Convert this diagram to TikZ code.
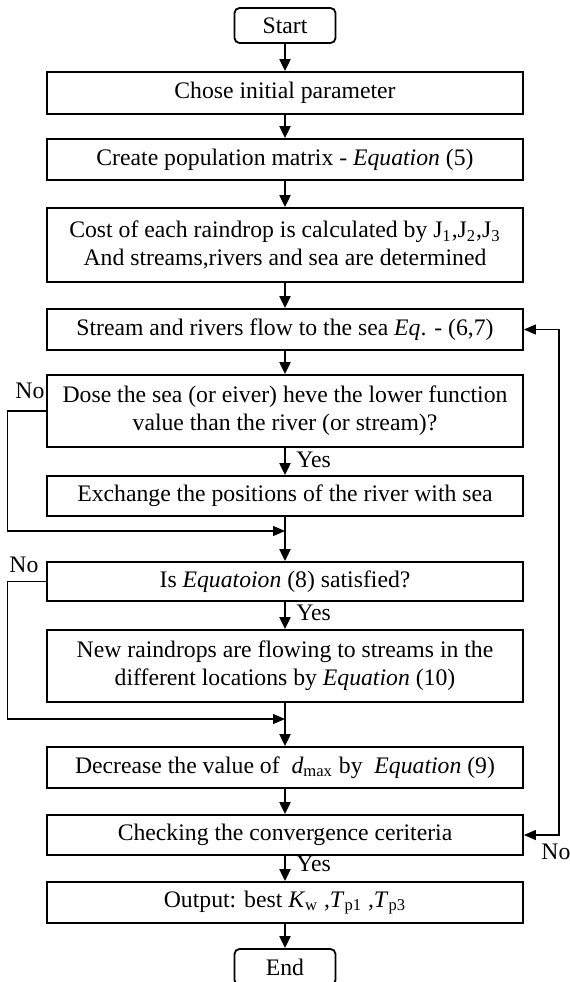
\documentclass[tikz,border=0pt]{standalone}
\usepackage{fontspec}
\setmainfont{Liberation Serif}
\usetikzlibrary{arrows.meta}

\begin{document}
\begin{tikzpicture}[x=0.5pt, y=-0.5pt,
        every node/.style={font=\fontsize{11.85}{13.85}\selectfont},
        box/.style={draw, line width=0.9pt, minimum width=238pt, inner sep=0pt, align=center},
        term/.style={draw, line width=0.9pt, rounded corners=2.5pt, minimum width=50.5pt, minimum height=17.5pt, inner sep=0pt},
        flow/.style={line width=1pt, -{Triangle[length=6pt, width=5.5pt]}},
        back/.style={line width=0.6pt, -{Triangle[length=6pt, width=5pt]}},
        backboth/.style={line width=0.6pt, {Triangle[length=6pt, width=5pt]}-{Triangle[length=6pt, width=5pt]}},
        lbl/.style={anchor=base west, inner sep=0pt}]
            \clip (0, 0) rectangle (569, 982);

            \node[term] (start) at (285, 25.5) {Start};
            \node[box, minimum height=21pt] (b1) at (285, 93) {Chose initial parameter};
            \node[box, minimum height=20.5pt] (b2) at (285, 159.5) {Create population matrix - \textit{Equation} (5)};
            \node[box, minimum height=37pt] (b3) at (285, 245) {Cost of each raindrop is calculated by J\textsubscript{1},J\textsubscript{2},J\textsubscript{3}\\And streams,rivers and sea are determined};
            \node[box, minimum height=20.5pt] (b4) at (285, 329.5) {Stream and rivers flow to the sea \textit{Eq}. - (6,7)};
            \node[box, minimum height=36pt] (b5) at (285, 411) {Dose the sea (or eiver) heve the lower function\\value than the river (or stream)?};
            \node[box, minimum height=20pt] (b6) at (285, 496) {Exchange the positions of the river with sea};
            \node[box, minimum height=19.5pt] (b7) at (285, 581.5) {Is \textit{Equatoion} (8) satisfied?};
            \node[box, minimum height=36pt] (b8) at (285, 666) {New raindrops are flowing to streams in the\\different locations by \textit{Equation} (10)};
            \node[box, minimum height=20.5pt] (b9) at (285, 767.5) {Decrease the value of \ \textit{d}\textsubscript{max} by \ \textit{Equation} (9)};
            \node[box, minimum height=20pt] (b10) at (285, 835) {Checking the convergence ceriteria};
            \node[box, minimum height=20.5pt] (b11) at (285, 902.5) {Output: best \textit{K}\textsubscript{w} ,\textit{T}\textsubscript{p1} ,\textit{T}\textsubscript{p3}};
            \node[term, minimum height=18pt] (end) at (285, 967) {End};

            \coordinate (j1) at (285, 531);
            \coordinate (j2) at (285, 719);

            \draw[flow] (start) -- (b1);
            \draw[flow] (b1) -- (b2);
            \draw[flow] (b2) -- (b3);
            \draw[flow] (b3) -- (b4);
            \draw[flow] (b4) -- (b5);
            \draw[flow] (b5) -- (b6);
            \draw[flow] (b6) -- (b7);
            \draw[flow] (b7) -- (b8);
            \draw[flow] (b8) -- (b9);
            \draw[flow] (b9) -- (b10);
            \draw[flow] (b10) -- (b11);
            \draw[flow] (b11) -- (end);

            \draw[back] (b5.west) -- ++(-39, 0) |- (j1);
            \draw[back] (b7.west) -- ++(-39, 0) |- (j2);
            \draw[backboth] (b10.east) -- ++(35, 0) |- (b4.east);

            \node[lbl] (yes1) at (296, 467) {Yes};
            \node[lbl] (yes2) at (296, 620) {Yes};
            \node[lbl] (yes3) at (296, 871) {Yes};
            \node[lbl] (no1) at (15, 398) {No};
            \node[lbl] (no2) at (9, 572) {No};
            \node[lbl] (no3) at (541, 859) {No};
        \end{tikzpicture}
\end{document}
